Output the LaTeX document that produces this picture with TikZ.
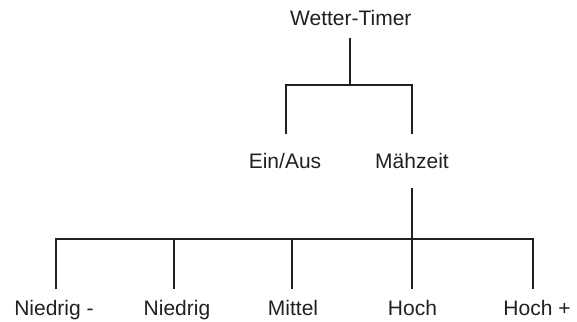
\documentclass[tikz,border=0pt]{standalone}
\usepackage{fontspec}
\setmainfont{Liberation Sans}
\definecolor{ink}{HTML}{231F20}
\begin{document}
\begin{tikzpicture}[x=1pt,y=-1pt,
  lbl/.style={anchor=base, inner sep=0pt, font=\fontsize{21}{25}\selectfont, text=ink},
  conn/.style={draw=ink, line width=2pt, line join=miter}]
\useasboundingbox (0,0) rectangle (577,321);
% labels
\node[lbl] (root) at (350.8,26) {Wetter-Timer};
\node[lbl] (ein) at (285,168.5) {Ein/Aus};
\node[lbl] (mah) at (412,168.5) {Mähzeit};
\node[lbl] (n1) at (54,315.5) {Niedrig -};
\node[lbl] (n2) at (177,315.5) {Niedrig};
\node[lbl] (n3) at (293,315.5) {Mittel};
\node[lbl] (n4) at (412.5,315.5) {Hoch};
\node[lbl] (n5) at (537,315.5) {Hoch +};
% connector points
\coordinate (rb) at (350,38);
\coordinate (rj) at (350,85);
\coordinate (ej) at (286,85);
\coordinate (et) at (286,134);
\coordinate (mj) at (412,85);
\coordinate (mt) at (412,134);
\coordinate (mb) at (412,188);
\coordinate (mk) at (412,239);
\coordinate (j1) at (55.7,239);  \coordinate (t1) at (55.7,289);
\coordinate (j2) at (174.3,239); \coordinate (t2) at (174.3,289);
\coordinate (j3) at (292.3,239); \coordinate (t3) at (292.3,289);
\coordinate (j4) at (412,239);   \coordinate (t4) at (412,289);
\coordinate (j5) at (533.3,239); \coordinate (t5) at (533.3,289);
% connectors
\draw[conn] (rb) -- (rj);
\draw[conn] (et) -- (ej) -- (mj) -- (mt);
\draw[conn] (mb) -- (mk);
\draw[conn] (t1) -- (j1) -- (j5) -- (t5);
\draw[conn] (j2) -- (t2);
\draw[conn] (j3) -- (t3);
\draw[conn] (j4) -- (t4);
\end{tikzpicture}
\end{document}
